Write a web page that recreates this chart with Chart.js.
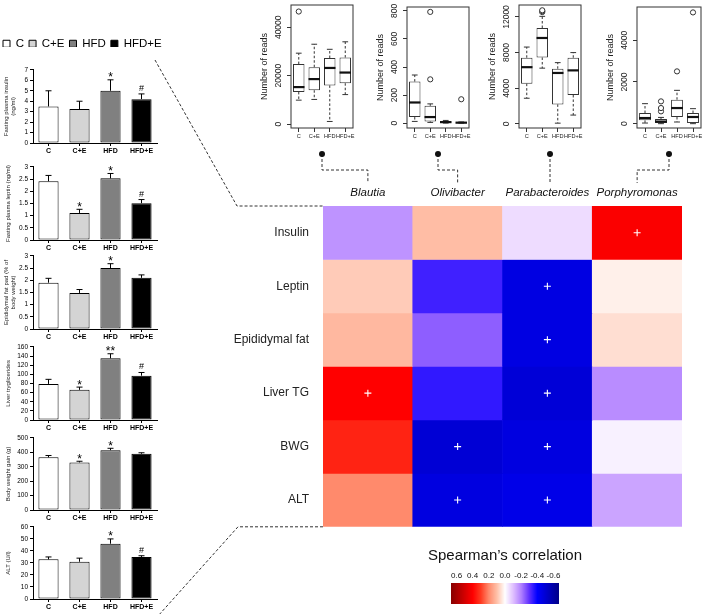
<!DOCTYPE html>
<html>
<head>
<meta charset="utf-8">
<script src="https://cdn.jsdelivr.net/npm/chart.js@4.4.0/dist/chart.umd.min.js"></script>
<style>
  html, body { margin: 0; padding: 0; background: #fff; }
  #page { position: relative; width: 708px; height: 614px; overflow: hidden; }
  .box { position: absolute; }
  #overlay { position: absolute; left: 0; top: 0; pointer-events: none; z-index: 5; }
</style>
</head>
<body>
<div id="page">
  <div class="box" id="wLeg"><canvas></canvas></div>
  <div class="box" id="wIns"><canvas></canvas></div>
  <div class="box" id="wLep"><canvas></canvas></div>
  <div class="box" id="wFat"><canvas></canvas></div>
  <div class="box" id="wTG"><canvas></canvas></div>
  <div class="box" id="wBWG"><canvas></canvas></div>
  <div class="box" id="wALT"><canvas></canvas></div>
  <div class="box" id="wB1"><canvas></canvas></div>
  <div class="box" id="wB2"><canvas></canvas></div>
  <div class="box" id="wB3"><canvas></canvas></div>
  <div class="box" id="wB4"><canvas></canvas></div>
  <div class="box" id="wHeat"><canvas></canvas></div>
  <div class="box" id="wScale"><canvas></canvas></div>
  <canvas id="overlay" width="708" height="614"></canvas>
</div>
<script>
// groupes experimentaux
const groups = ['C', 'C+E', 'HFD', 'HFD+E'];
const groupColors = ['#ffffff', '#d4d4d4', '#808080', '#000000'];

// painel esquerdo: media, erro padrao, marcas de significancia
const insulinMean = [3.5, 3.25, 5.0, 4.2];
const insulinSem  = [1.5, 0.75, 1.05, 0.5];
const insulinMark = ['', '', '*', '#'];
const leptinMean = [2.41, 1.11, 2.53, 1.51];
const leptinSem  = [0.24, 0.15, 0.2, 0.15];
const leptinMark = ['', '*', '*', '#'];
const fatMean = [1.9, 1.48, 2.5, 2.1];
const fatSem  = [0.18, 0.14, 0.18, 0.12];
const fatMark = ['', '', '*', ''];
const tgMean = [79, 66, 135, 97];
const tgSem  = [10, 6, 10, 7];
const tgMark = ['', '*', '**', '#'];
const bwgMean = [365, 330, 415, 390];
const bwgSem  = [13, 8, 13, 7];
const bwgMark = ['', '*', '*', ''];
const altMean = [33, 31, 46, 35];
const altSem  = [2, 3, 4, 1];
const altMark = ['', '', '*', '#'];

// boxplots: [min, q1, mediana, q3, max] por grupo
const blautiaBox = [[9900, 13300, 15300, 24800, 29300], [10200, 14000, 18600, 23500, 33000],
                    [1100, 16000, 23200, 27300, 30900], [12200, 16900, 21300, 27500, 34000]];
const blautiaOut = [{x: 'C', y: 46500}];
const olivBox = [[12, 43, 147, 296, 343], [5, 12, 43, 123, 137], [0, 3, 7, 12, 19], [0, 1, 3, 5, 8]];
const olivOut = [{x: 'C+E', y: 312}, {x: 'C+E', y: 793}, {x: 'HFD+E', y: 170}];
const parabBox = [[2870, 4510, 6360, 7420, 8620], [6250, 7450, 9640, 10760, 12070],
                  [70, 2180, 5710, 6180, 6870], [980, 3240, 6000, 7420, 8000]];
const parabOut = [{x: 'C+E', y: 12550}, {x: 'C+E', y: 12650}, {x: 'C+E', y: 12750}];
const porphBox = [[30, 160, 270, 510, 960], [0, 30, 100, 220, 300], [80, 320, 750, 1150, 1600], [0, 30, 320, 510, 720]];
const porphOut = [{x: 'C+E', y: 590}, {x: 'C+E', y: 750}, {x: 'C+E', y: 1070}, {x: 'HFD', y: 2510}, {x: 'HFD+E', y: 5340}];

// heatmap de Spearman
const genera = ['Blautia', 'Olivibacter', 'Parabacteroides', 'Porphyromonas'];
const traits = ['Insulin', 'Leptin', 'Epididymal fat', 'Liver TG', 'BWG', 'ALT'];
const rhoInsulin = [-0.17, 0.105, -0.055, 0.41];
const rhoLeptin  = [0.082, -0.333, -0.466, 0.024];
const rhoFat     = [0.114, -0.243, -0.466, 0.052];
const rhoTG      = [0.40, -0.349, -0.49, -0.182];
const rhoBWG     = [0.34, -0.494, -0.469, -0.023];
const rhoALT     = [0.20, -0.469, -0.452, -0.143];
const sigInsulin = [0, 0, 0, 1];
const sigLeptin  = [0, 0, 1, 0];
const sigFat     = [0, 0, 1, 0];
const sigTG      = [1, 0, 1, 0];
const sigBWG     = [0, 1, 1, 0];
const sigALT     = [0, 1, 1, 0];
const scaleTicks = [0.6, 0.4, 0.2, 0, -0.2, -0.4, -0.6];

const rhoRows = [rhoInsulin, rhoLeptin, rhoFat, rhoTG, rhoBWG, rhoALT];
const sigRows = [sigInsulin, sigLeptin, sigFat, sigTG, sigBWG, sigALT];

// escala de cores (vermelho - branco - azul)
const rhoStops = [-0.66, -0.4, -0.3, -0.2, -0.1, 0, 0.1, 0.2, 0.3, 0.4, 0.66];
const rhoRGB = [[0, 0, 139], [0, 0, 255], [96, 48, 255], [176, 128, 255], [224, 192, 255], [255, 255, 255],
                [255, 192, 168], [255, 138, 108], [255, 58, 32], [255, 0, 0], [139, 0, 0]];
function rhoColor(v) {
  v = Math.max(-0.66, Math.min(0.66, v));
  let k = 0;
  while (k < rhoStops.length - 2 && v > rhoStops[k + 1]) k++;
  const t = (v - rhoStops[k]) / (rhoStops[k + 1] - rhoStops[k]);
  const c = rhoRGB[k].map((a, j) => Math.round(a + (rhoRGB[k + 1][j] - a) * t));
  return 'rgb(' + c.join(',') + ')';
}

Chart.defaults.font.family = '"Liberation Sans", Arial, sans-serif';
Chart.defaults.color = '#111';
Chart.defaults.animation = false;
Chart.defaults.events = [];
Chart.defaults.plugins.legend.display = false;
Chart.defaults.plugins.tooltip.enabled = false;
Chart.defaults.maintainAspectRatio = false;

function place(id, left, top, w, h) {
  const d = document.getElementById(id);
  d.style.left = left + 'px';
  d.style.top = top + 'px';
  d.style.width = w + 'px';
  d.style.height = h + 'px';
  return d.querySelector('canvas');
}

// legenda dos grupos
new Chart(place('wLeg', -2, 33, 184, 28), {
  type: 'bar',
  data: {
    labels: [],
    datasets: groups.map((g, i) => ({ label: g, data: [], backgroundColor: groupColors[i], borderColor: '#000', borderWidth: 1 }))
  },
  options: {
    scales: { x: { display: false }, y: { display: false } },
    plugins: {
      legend: {
        display: true, align: 'start',
        labels: { boxWidth: 7, boxHeight: 7, padding: 5, color: '#000', font: { size: 11.5 } }
      }
    }
  }
});

// barras com erro padrao
function errorBars(mean, sem, marks) {
  return {
    id: 'errorBars',
    afterDatasetsDraw(chart) {
      const ctx = chart.ctx, y = chart.scales.y;
      chart.getDatasetMeta(0).data.forEach((bar, i) => {
        const top = y.getPixelForValue(mean[i] + sem[i]);
        ctx.save();
        ctx.strokeStyle = '#000';
        ctx.lineWidth = 1;
        ctx.beginPath();
        ctx.moveTo(bar.x, bar.y);
        ctx.lineTo(bar.x, top);
        ctx.moveTo(bar.x - 3, top);
        ctx.lineTo(bar.x + 3, top);
        ctx.stroke();
        if (marks[i]) {
          ctx.fillStyle = '#000';
          ctx.textAlign = 'center';
          ctx.textBaseline = 'alphabetic';
          if (marks[i] === '#') {
            ctx.font = '9px "Liberation Sans", Arial';
            ctx.fillText(marks[i], bar.x, top - 3);
          } else {
            ctx.font = '12px "Liberation Sans", Arial';
            ctx.fillText(marks[i], bar.x, top + 1.5);
          }
        }
        ctx.restore();
      });
    }
  };
}

const leftPanels = [
  { id: 'wIns', mean: insulinMean, sem: insulinSem, mark: insulinMark, max: 7, step: 1, title: ['Fasting plasma insulin', '(ng/ml)'], top: 69, bottom: 143 },
  { id: 'wLep', mean: leptinMean, sem: leptinSem, mark: leptinMark, max: 3, step: 0.5, title: 'Fasting plasma leptin (ng/ml)', top: 166, bottom: 240 },
  { id: 'wFat', mean: fatMean, sem: fatSem, mark: fatMark, max: 3, step: 0.5, title: ['Epididymal fat pad (% of', 'body weight)'], top: 255, bottom: 329 },
  { id: 'wTG', mean: tgMean, sem: tgSem, mark: tgMark, max: 160, step: 20, title: 'Liver tryglicerides', top: 346, bottom: 420 },
  { id: 'wBWG', mean: bwgMean, sem: bwgSem, mark: bwgMark, max: 500, step: 100, title: 'Body weight gain (g)', top: 437, bottom: 510 },
  { id: 'wALT', mean: altMean, sem: altSem, mark: altMark, max: 60, step: 10, title: 'ALT (U/l)', top: 526, bottom: 599 }
];

leftPanels.forEach(p => {
  const h = p.bottom - p.top + 5 + 14;
  new Chart(place(p.id, 0, p.top - 5, 162, h), {
    type: 'bar',
    data: {
      labels: groups,
      datasets: [{
        data: p.mean, backgroundColor: groupColors, borderColor: '#000', borderWidth: 1,
        borderSkipped: false, barPercentage: 0.65, categoryPercentage: 1
      }]
    },
    options: {
      layout: { padding: { top: 5, right: 5 } },
      scales: {
        x: {
          grid: { drawOnChartArea: false, offset: false, tickLength: 3, color: '#000' },
          border: { color: '#000' },
          ticks: { font: { size: 7, weight: 'bold' }, color: '#000', padding: 1 },
          afterFit: s => { s.height = 14; }
        },
        y: {
          min: 0, max: p.max,
          ticks: { stepSize: p.step, autoSkip: false, callback: v => String(v), font: { size: 6.5 }, color: '#000', padding: 2 },
          grid: { drawOnChartArea: false, tickLength: 3, color: '#000' },
          border: { color: '#000' },
          title: { display: true, text: p.title, font: { size: 6 }, color: '#222', padding: { top: Array.isArray(p.title) ? 3 : 5, bottom: 1 } },
          afterFit: s => { s.width = 33; }
        }
      }
    },
    plugins: [errorBars(p.mean, p.sem, p.mark)]
  });
});

// boxplots (caixa = barra flutuante q1..q3)
function boxDecor(stats) {
  return {
    id: 'boxDecor',
    afterDatasetsDraw(chart) {
      const ctx = chart.ctx, y = chart.scales.y, a = chart.chartArea;
      ctx.save();
      ctx.strokeStyle = '#333';
      chart.getDatasetMeta(0).data.forEach((bar, i) => {
        const s = stats[i], x = bar.x, w = bar.width;
        ctx.lineWidth = 1;
        ctx.setLineDash([2.5, 2]);
        ctx.beginPath();
        ctx.moveTo(x, y.getPixelForValue(s[3])); ctx.lineTo(x, y.getPixelForValue(s[4]));
        ctx.moveTo(x, y.getPixelForValue(s[1])); ctx.lineTo(x, y.getPixelForValue(s[0]));
        ctx.stroke();
        ctx.setLineDash([]);
        ctx.beginPath();
        ctx.moveTo(x - w / 4, y.getPixelForValue(s[4])); ctx.lineTo(x + w / 4, y.getPixelForValue(s[4]));
        ctx.moveTo(x - w / 4, y.getPixelForValue(s[0])); ctx.lineTo(x + w / 4, y.getPixelForValue(s[0]));
        ctx.stroke();
        ctx.lineWidth = 2.2;
        ctx.strokeStyle = '#111';
        ctx.beginPath();
        ctx.moveTo(x - w / 2, y.getPixelForValue(s[2])); ctx.lineTo(x + w / 2, y.getPixelForValue(s[2]));
        ctx.stroke();
        ctx.strokeStyle = '#333';
      });
      ctx.lineWidth = 1;
      ctx.strokeRect(a.left, a.top, a.right - a.left, a.bottom - a.top);
      ctx.restore();
    }
  };
}

function boxPlot(id, left, frameTop, areaW, stats, outl, yMin, yMax, yTicks, tickPad) {
  return new Chart(place(id, left, 0, 36 + areaW + 2, 145), {
    type: 'bar',
    data: {
      labels: groups,
      datasets: [
        { type: 'bar', data: stats.map(s => [s[1], s[3]]), backgroundColor: '#fff', borderColor: '#333',
          borderWidth: 1, borderSkipped: false, barPercentage: 0.74, categoryPercentage: 1 },
        { type: 'line', data: outl, showLine: false, pointStyle: 'circle', pointRadius: 2.6,
          pointBackgroundColor: '#fff', pointBorderColor: '#333', pointBorderWidth: 1 }
      ]
    },
    options: {
      layout: { padding: { top: frameTop, right: 2 } },
      scales: {
        x: {
          grid: { drawOnChartArea: false, offset: false, tickLength: 4, color: '#333' },
          border: { display: false },
          ticks: { font: { size: 5.6 }, color: '#222', padding: 1.5, autoSkip: false, maxRotation: 0 },
          afterFit: s => { s.height = 17; }
        },
        y: {
          min: yMin, max: yMax,
          afterBuildTicks: s => { s.ticks = yTicks.map(v => ({ value: v })); },
          ticks: { minRotation: 90, maxRotation: 90, crossAlign: 'center', callback: v => String(v), font: { size: 8.5 }, color: '#222', padding: tickPad },
          grid: { drawOnChartArea: false, tickLength: 4, color: '#333' },
          border: { display: false },
          title: { display: true, text: 'Number of reads', font: { size: 9 }, color: '#222', padding: { top: 4, bottom: 0 } },
          afterFit: s => { s.width = 36; }
        }
      }
    },
    plugins: [boxDecor(stats)]
  });
}

const boxLefts = [255, 371, 483, 601];
const boxCharts = [
  boxPlot('wB1', boxLefts[0], 3, 65, blautiaBox, blautiaOut, -1600, 49200, [0, 20000, 40000], -3.8),
  boxPlot('wB2', boxLefts[1], 7, 65, olivBox, olivOut, -35, 828, [0, 200, 400, 600, 800], 0.9),
  boxPlot('wB3', boxLefts[2], 2, 65, parabBox, parabOut, -473, 13345, [0, 4000, 8000, 12000], -3.8),
  boxPlot('wB4', boxLefts[3], 7, 67, porphBox, porphOut, -208, 5600, [0, 2000, 4000], -1.4)
];

// heatmap: cada linha = barras flutuantes [r, r+1]
const plusSigns = {
  id: 'plusSigns',
  afterDatasetsDraw(chart) {
    const ctx = chart.ctx;
    ctx.save();
    ctx.strokeStyle = '#fff';
    ctx.lineWidth = 1.1;
    sigRows.forEach((row, r) => {
      const meta = chart.getDatasetMeta(r);
      row.forEach((s, c) => {
        if (!s) return;
        const el = meta.data[c];
        const cx = el.x, cy = (el.y + el.base) / 2;
        ctx.beginPath();
        ctx.moveTo(cx - 3.5, cy); ctx.lineTo(cx + 3.5, cy);
        ctx.moveTo(cx, cy - 3.5); ctx.lineTo(cx, cy + 3.5);
        ctx.stroke();
      });
    });
    ctx.restore();
  }
};

// a altura inclui o recuo inferior que o eixo y reserva (meia etiqueta + padding)
const heatLeft = 230, heatTop = 180;
const heat = new Chart(place('wHeat', heatLeft, heatTop, 478, 368), {
  type: 'bar',
  data: {
    labels: genera,
    datasets: traits.map((t, r) => ({
      label: t,
      data: genera.map(() => [r, r + 1]),
      backgroundColor: rhoRows[r].map(rhoColor),
      borderWidth: 0, grouped: false, barPercentage: 1, categoryPercentage: 1
    }))
  },
  options: {
    layout: { padding: { right: 26 } },
    scales: {
      x: {
        position: 'top',
        grid: { display: false, drawTicks: false },
        border: { display: false },
        ticks: { font: { size: 11.5, style: 'italic' }, color: '#111', padding: 6, maxRotation: 0 },
        afterFit: s => { s.height = 26; }
      },
      y: {
        min: 0, max: traits.length, reverse: true,
        grid: { display: false, drawTicks: false },
        border: { display: false },
        afterBuildTicks: s => { s.ticks = traits.map((t, i) => ({ value: i + 0.5 })); },
        ticks: { callback: (v, i) => traits[i], font: { size: 12 }, color: '#222', padding: 14, autoSkip: false },
        afterFit: s => { s.width = 93; }
      }
    }
  },
  plugins: [plusSigns]
});

// barra de cores da correlacao
const gradientBar = {
  id: 'gradientBar',
  beforeDatasetsDraw(chart) {
    const ctx = chart.ctx, x = chart.scales.x, a = chart.chartArea;
    const x0 = Math.round(x.getPixelForValue(0.67)), x1 = Math.round(x.getPixelForValue(-0.67));
    for (let px = x0; px < x1; px++) {
      ctx.fillStyle = rhoColor(x.getValueForPixel(px + 0.5));
      ctx.fillRect(px, a.top, 1, a.bottom - a.top);
    }
  }
};

new Chart(place('wScale', 400, 545, 210, 59), {
  type: 'bar',
  data: { labels: [], datasets: [] },
  options: {
    scales: {
      x: {
        type: 'linear', position: 'top', min: -1.114, max: 1.114, reverse: true,
        afterBuildTicks: s => { s.ticks = scaleTicks.map(v => ({ value: v })); },
        ticks: { callback: v => v.toFixed(1), font: { size: 8 }, color: '#111', padding: 2, maxRotation: 0, autoSkip: false },
        grid: { display: false, drawTicks: false },
        border: { display: false },
        afterFit: s => { s.height = 18; }
      },
      y: { display: false }
    },
    plugins: {
      title: { display: true, text: 'Spearman\u2019s correlation', font: { size: 15, weight: 'normal' }, color: '#111', padding: { top: 2, bottom: 0 } }
    }
  },
  plugins: [gradientBar]
});

// linhas tracejadas de ligacao
(function drawLinks() {
  const ctx = document.getElementById('overlay').getContext('2d');
  const ha = heat.chartArea;
  ctx.strokeStyle = '#333';
  ctx.lineWidth = 1;
  ctx.setLineDash([3, 2]);
  boxCharts.forEach((bc, i) => {
    const a = bc.chartArea;
    const dx = boxLefts[i] + (a.left + a.right) / 2;
    const cx = heatLeft + heat.scales.x.getPixelForValue(i);
    ctx.beginPath();
    if (Math.abs(dx - cx) < 6) {
      ctx.moveTo(dx, 154); ctx.lineTo(dx, 183);
    } else {
      ctx.moveTo(dx, 154); ctx.lineTo(dx, 170); ctx.lineTo(cx, 170); ctx.lineTo(cx, 183);
    }
    ctx.stroke();
  });
  ctx.beginPath();
  ctx.moveTo(155, 60); ctx.lineTo(237, heatTop + ha.top); ctx.lineTo(heatLeft + ha.left, heatTop + ha.top);
  ctx.moveTo(heatLeft + ha.left, heatTop + ha.bottom); ctx.lineTo(238, heatTop + ha.bottom); ctx.lineTo(158, 616);
  ctx.stroke();
  ctx.setLineDash([]);
  ctx.fillStyle = '#111';
  boxCharts.forEach((bc, i) => {
    const a = bc.chartArea;
    ctx.beginPath();
    ctx.arc(boxLefts[i] + (a.left + a.right) / 2, 154, 3, 0, Math.PI * 2);
    ctx.fill();
  });
})();
</script>
</body>
</html>
